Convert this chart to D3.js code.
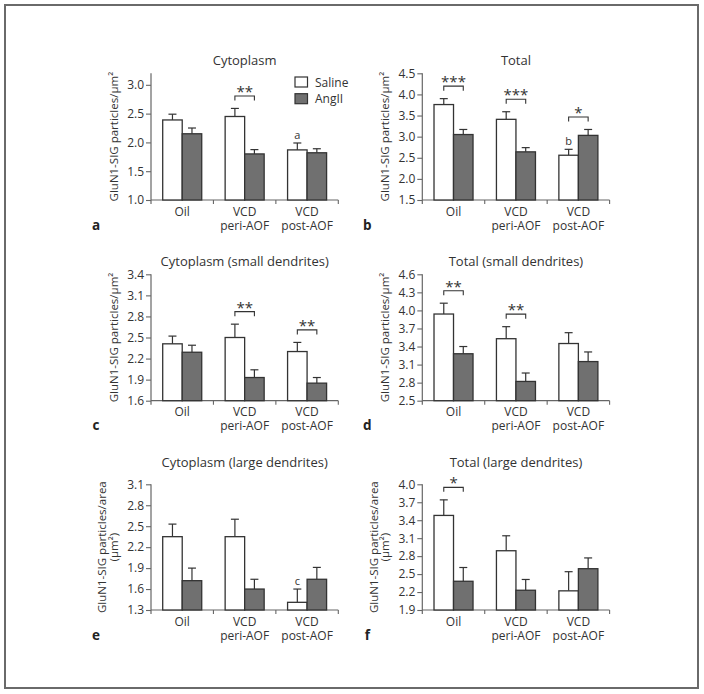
<!DOCTYPE html>
<html><head><meta charset="utf-8">
<script src="https://cdn.jsdelivr.net/npm/d3@7"></script>
<style>body{margin:0;background:#fff}svg{display:block;font-family:"Open Sans",sans-serif}</style>
</head><body><svg id="chart" width="704" height="694"></svg>
<script>
const categories = [["Oil"], ["VCD","peri-AOF"], ["VCD","post-AOF"]];
const series = ["Saline", "AngII"];

const titleA = "Cytoplasm", ticksA = [1.0,1.5,2.0,2.5,3.0], domainA = [1.0,3.2];
const salineA = [2.39,2.45,1.87], salineErrA = [0.10,0.14,0.12];
const angA = [2.15,1.80,1.82], angErrA = [0.10,0.075,0.07];
const sigA = ["","**",""], letA = ["","","a"];

const titleB = "Total", ticksB = [1.5,2.0,2.5,3.0,3.5,4.0,4.5], domainB = [1.5,4.5];
const salineB = [3.76,3.41,2.56], salineErrB = [0.14,0.18,0.14];
const angB = [3.05,2.64,3.03], angErrB = [0.12,0.10,0.14];
const sigB = ["***","***","*"], letB = ["","","b"];

const titleC = "Cytoplasm (small dendrites)", ticksC = [1.6,1.9,2.2,2.5,2.8,3.1,3.4], domainC = [1.6,3.4];
const salineC = [2.41,2.50,2.30], salineErrC = [0.11,0.19,0.13];
const angC = [2.29,1.93,1.85], angErrC = [0.10,0.11,0.08];
const sigC = ["","**","**"], letC = ["","",""];

const titleD = "Total (small dendrites)", ticksD = [2.5,2.8,3.1,3.4,3.7,4.0,4.3,4.6], domainD = [2.5,4.6];
const salineD = [3.94,3.53,3.45], salineErrD = [0.18,0.20,0.18];
const angD = [3.28,2.82,3.15], angErrD = [0.12,0.14,0.16];
const sigD = ["**","**",""], letD = ["","",""];

const titleE = "Cytoplasm (large dendrites)", ticksE = [1.3,1.6,1.9,2.2,2.5,2.8,3.1], domainE = [1.3,3.1];
const salineE = [2.35,2.35,1.41], salineErrE = [0.18,0.25,0.19];
const angE = [1.72,1.60,1.74], angErrE = [0.18,0.14,0.17];
const sigE = ["","",""], letE = ["","","c"];

const titleF = "Total (large dendrites)", ticksF = [1.9,2.2,2.5,2.8,3.1,3.4,3.7,4.0], domainF = [1.9,4.0];
const salineF = [3.48,2.89,2.22], salineErrF = [0.26,0.25,0.32];
const angF = [2.38,2.23,2.59], angErrF = [0.23,0.18,0.18];
const sigF = ["*","",""], letF = ["","",""];

const yLabel1 = ["GluN1-SIG particles/µm²"];
const yLabel2 = ["GluN1-SIG particles/area", "(µm²)"];
const panelLetters = ["a","b","c","d","e","f"];

const svg = d3.select("#chart");
svg.append("rect").attr("x",5).attr("y",5).attr("width",693).attr("height",683)
  .attr("fill","none").attr("stroke","#6a6a6a").attr("stroke-width",2);

const colX = [151, 422.3];
const plotW = 187.3;
const rows = [{top:73.3,bottom:200,title:65},{top:274.3,bottom:400.7,title:265.7},{top:484.3,bottom:610,title:466.7}];
const colors = {Saline:"#ffffff", AngII:"#707070"};
const ink = "#333", axisCol = "#666";

const panels = [
  {t:titleA,ticks:ticksA,dom:domainA,s:salineA,se:salineErrA,g:angA,ge:angErrA,sig:sigA,let:letA,yl:yLabel1,legend:true},
  {t:titleB,ticks:ticksB,dom:domainB,s:salineB,se:salineErrB,g:angB,ge:angErrB,sig:sigB,let:letB,yl:yLabel1},
  {t:titleC,ticks:ticksC,dom:domainC,s:salineC,se:salineErrC,g:angC,ge:angErrC,sig:sigC,let:letC,yl:yLabel1},
  {t:titleD,ticks:ticksD,dom:domainD,s:salineD,se:salineErrD,g:angD,ge:angErrD,sig:sigD,let:letD,yl:yLabel1},
  {t:titleE,ticks:ticksE,dom:domainE,s:salineE,se:salineErrE,g:angE,ge:angErrE,sig:sigE,let:letE,yl:yLabel2},
  {t:titleF,ticks:ticksF,dom:domainF,s:salineF,se:salineErrF,g:angF,ge:angErrF,sig:sigF,let:letF,yl:yLabel2}
];

panels.forEach((p, i) => {
  const row = rows[Math.floor(i/2)], x0 = colX[i%2], x1 = x0 + plotW;
  const g = svg.append("g");
  const catKeys = categories.map(c => c.join(" "));
  const x = d3.scaleBand().domain(catKeys).range([x0, x1]).padding(0);
  const bw = x.bandwidth();
  const xs = d3.scaleBand().domain(series).range([bw*0.1875, bw*0.8125]).padding(0);
  const y = d3.scaleLinear().domain(p.dom).range([row.bottom, row.top]);

  g.append("text").attr("x", x0 + plotW/2).attr("y", row.title).attr("text-anchor","middle")
    .attr("font-size", 13).attr("fill", ink).text(p.t);

  const ya = g.append("g").attr("transform", `translate(${x0},0)`)
    .call(d3.axisLeft(y).tickValues(p.ticks).tickSize(5).tickPadding(2).tickFormat(d3.format(".1f")));
  ya.select(".domain").remove();
  ya.selectAll(".tick line").attr("stroke", axisCol).attr("stroke-width",1.1);
  ya.selectAll(".tick text").attr("font-size",12).attr("fill",ink).attr("font-family","Open Sans, sans-serif");
  g.append("line").attr("x1",x0).attr("x2",x0).attr("y1",row.top).attr("y2",row.bottom+4)
    .attr("stroke",axisCol).attr("stroke-width",1.2);
  g.append("line").attr("x1",x0).attr("x2",x1).attr("y1",row.bottom).attr("y2",row.bottom)
    .attr("stroke",axisCol).attr("stroke-width",1.2);
  catKeys.forEach(c => {
    g.append("line").attr("x1",x(c)+bw).attr("x2",x(c)+bw).attr("y1",row.bottom).attr("y2",row.bottom+4)
      .attr("stroke",axisCol).attr("stroke-width",1.1);
  });
  categories.forEach((c, ci) => {
    c.forEach((ln, li) => {
      g.append("text").attr("x", x(catKeys[ci]) + bw/2).attr("y", row.bottom + 15.5 + li*14)
        .attr("text-anchor","middle").attr("font-size",12).attr("fill",ink).text(ln);
    });
  });

  const ylx = x0 - 37 - (p.yl.length - 1) * 11.7;
  const ylc = (row.top + row.bottom)/2;
  p.yl.forEach((ln, li) => {
    g.append("text").attr("transform", `translate(${ylx + li*11.7 + 4},${ylc}) rotate(-90)`)
      .attr("text-anchor","middle").attr("font-size",11.5).attr("fill",ink).text(ln);
  });

  g.append("text").attr("x", x0 - 55).attr("y", row.bottom + 29.5).attr("text-anchor","middle")
    .attr("font-size",13.5).attr("font-weight","bold").attr("fill","#222").text(panelLetters[i]);

  const vals = {Saline:p.s, AngII:p.g}, errs = {Saline:p.se, AngII:p.ge};
  catKeys.forEach((c, ci) => {
    series.forEach(sn => {
      const v = vals[sn][ci], e = errs[sn][ci];
      const bx = x(c) + xs(sn), w = xs.bandwidth();
      g.append("line").attr("x1",bx+w/2).attr("x2",bx+w/2).attr("y1",y(v)).attr("y2",y(v+e))
        .attr("stroke",ink).attr("stroke-width",1.2);
      g.append("line").attr("x1",bx+w/2-4).attr("x2",bx+w/2+4).attr("y1",y(v+e)).attr("y2",y(v+e))
        .attr("stroke",ink).attr("stroke-width",1.2);
      g.append("rect").attr("x",bx).attr("y",y(v)).attr("width",w).attr("height",row.bottom - y(v))
        .attr("fill",colors[sn]).attr("stroke",ink).attr("stroke-width",1.3);
    });
    if (p.let[ci]) {
      g.append("text").attr("x", x(c)+xs("Saline")+xs.bandwidth()/2).attr("y", y(p.s[ci]+p.se[ci]) - 4)
        .attr("text-anchor","middle").attr("font-size",11).attr("fill",ink).text(p.let[ci]);
    }
    if (p.sig[ci]) {
      const top = Math.min(y(p.s[ci]+p.se[ci]), y(p.g[ci]+p.ge[ci]));
      const by = top - 12.5;
      const xa = x(c)+xs("Saline")+xs.bandwidth()/2, xb = x(c)+xs("AngII")+xs.bandwidth()/2;
      g.append("path").attr("d", `M${xa},${by+4.5}V${by}H${xb}V${by+4.5}`)
        .attr("fill","none").attr("stroke",ink).attr("stroke-width",1.1);
      g.append("text").attr("x",(xa+xb)/2).attr("y",by+1).attr("text-anchor","middle")
        .attr("font-size",15).attr("fill",ink).text(p.sig[ci]);
    }
  });

  if (p.legend) {
    series.forEach((sn, si) => {
      g.append("rect").attr("x",295).attr("y",77 + si*16.7).attr("width",12.5).attr("height",10)
        .attr("fill",colors[sn]).attr("stroke",ink).attr("stroke-width",1.2);
      g.append("text").attr("x",315).attr("y",86.5 + si*16.7).attr("font-size",12).attr("fill",ink).text(sn);
    });
  }
});
</script></body></html>
